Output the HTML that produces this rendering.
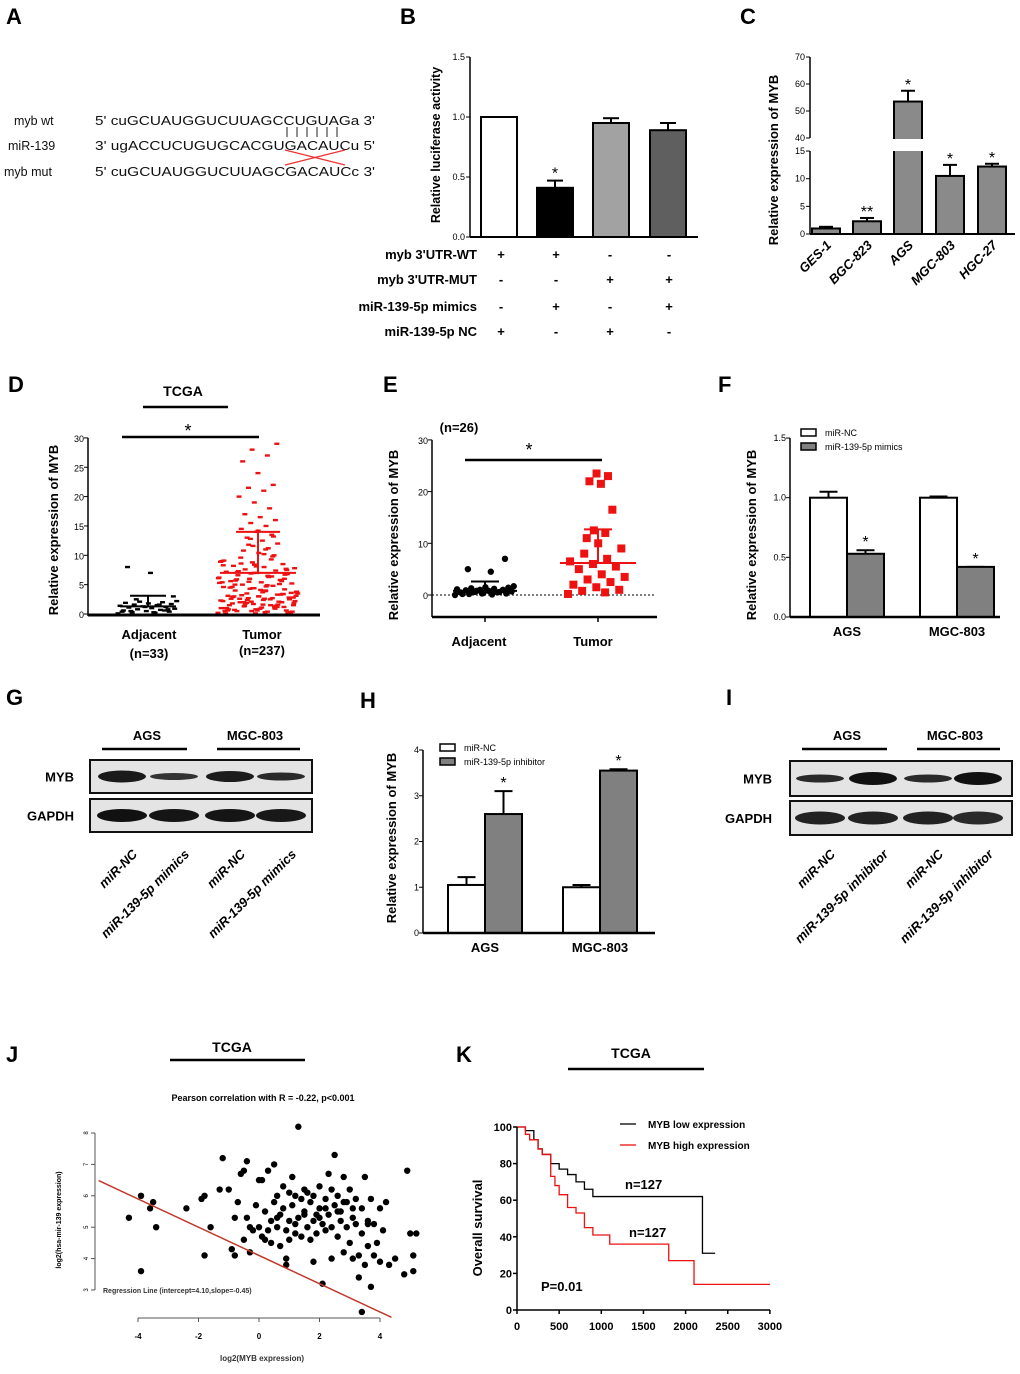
<!DOCTYPE html>
<html><head><meta charset="utf-8"><style>
html,body{margin:0;padding:0;background:#fff;}
svg{display:block;font-family:"Liberation Sans",sans-serif;}
.pl{font-size:22px;font-weight:bold;}
.t{font-size:13px;font-weight:bold;}
.s{font-size:9px;}
.sb{font-size:9px;font-weight:bold;}
</style></head><body>
<svg id="fig" width="1020" height="1374" viewBox="0 0 1020 1374">
<text class="pl" x="6" y="24">A</text>
<text class="pl" x="400" y="24">B</text>
<text class="pl" x="740" y="24">C</text>
<text class="pl" x="8" y="392">D</text>
<text class="pl" x="383" y="392">E</text>
<text class="pl" x="718" y="392">F</text>
<text class="pl" x="6" y="705">G</text>
<text class="pl" x="360" y="708">H</text>
<text class="pl" x="726" y="705">I</text>
<text class="pl" x="6" y="1062">J</text>
<text class="pl" x="456" y="1062">K</text>

<g font-size="12.5" fill="#111">
<text x="14" y="125">myb  wt</text><text x="95" y="125" textLength="280" lengthAdjust="spacingAndGlyphs">5'  cuGCUAUGGUCUUAGCCUGUAGa  3'</text>
<text x="8" y="150">miR-139</text><text x="95" y="150" textLength="280" lengthAdjust="spacingAndGlyphs">3'  ugACCUCUGUGCACGUGACAUCu  5'</text>
<text x="4" y="176">myb  mut</text><text x="95" y="176" textLength="280" lengthAdjust="spacingAndGlyphs">5'  cuGCUAUGGUCUUAGCGACAUCc  3'</text>
<g stroke="#222" stroke-width="1"><line x1="287" y1="127" x2="287" y2="137"/><line x1="297" y1="127" x2="297" y2="137"/><line x1="307" y1="127" x2="307" y2="137"/><line x1="317" y1="127" x2="317" y2="137"/><line x1="327" y1="127" x2="327" y2="137"/><line x1="337" y1="127" x2="337" y2="137"/></g>
<g stroke="#e33" stroke-width="1.2"><line x1="285" y1="150" x2="345" y2="165"/><line x1="285" y1="165" x2="345" y2="150"/></g>
</g>
<g id="pB"></g>
<g id="pC"></g>
<g id="pD"></g>
<g id="pE"></g>
<g id="pF"></g>
<g id="pG"></g>
<g id="pH"></g>
<g id="pI"></g>
<g id="pJ"></g>
<g id="pK"></g>
</svg>
<script>
const bVals = [1.0, 0.41, 0.95, 0.89];
const bErr = [0.0, 0.06, 0.04, 0.06];
const bTicks = [0, 0.5, 1.0, 1.5];
const cCats = ["GES-1","BGC-823","AGS","MGC-803","HGC-27"];
const cVals = [1.0, 2.3, 53.5, 10.5, 12.2];
const cErr = [0.3, 0.6, 4.0, 2.0, 0.5];
const dAdj = [0.1,0.2,0.3,0.4,0.5,0.6,0.7,0.8,0.9,1,1.1,1.2,1.3,1.4,1.5,1.6,1.7,1.8,1.9,2,2.1,2.2,0.3,0.5,0.8,1.2,0.4,1.6,2.5,3,7,8,0.6];
const dTum = [0.2,0.4,0.5,0.6,0.8,1,1.1,1.3,1.5,1.6,1.8,2,2.1,2.3,2.5,2.6,2.8,3,3.1,3.3,3.5,3.7,3.9,4,4.2,4.4,4.6,4.8,5,5.2,5.4,5.6,5.8,6,6.2,6.4,6.6,6.8,7,7.2,7.4,7.6,7.8,8,8.2,8.5,8.8,9,9.3,9.6,10,10.4,10.8,11.2,11.6,12,12.5,13,13.5,14,14.5,15,15.5,16,16.5,17,18,19,20,21,21.5,22,24,26,27,28,29,0.3,0.7,1.2,1.7,2.2,2.7,3.2,3.6,4.1,4.5,5.1,5.5,6.1,6.5,7.1,7.5,8.1,0.1,0.9,1.4,1.9,2.4,2.9,3.4,0.5,1,1.5,2,2.5,3,0.8,1.6,2.4,3.8,4.7,5.7,6.7,8.4,9.1,11,12.8,0.4,1.1,2.6,3.3,4.3,5.3,6.3,7.3,0.2,0.6,1.0,1.4,1.8,2.2,2.6,3.0,3.4,4.4,5.4,6.4,8.6,0.3,0.9,1.5,2.1,2.7,3.5,4.9,5.9,7.7,0.1,0.5,1.3,2.0,2.8,3.7,4.6,5.6,6.9,8.9,10.2,11.8,13.2,14.2,0.6,1.2,1.9,3.1,4.0,5.0,6.0,7.0,8.3,9.8];
const dStats = [1.3, 3.1, 7.0, 14.0];
const eAdj = [0,0.1,0.2,0.3,0.4,0.5,0.5,0.6,0.7,0.8,0.9,1,1,1.1,1.2,1.3,1.4,1.5,0.2,0.6,0.8,1.7,4.5,5,7,0.3];
const eTum = [0.2,0.5,0.8,1,1.5,2,2.5,3,3.5,4,5,5.5,6,6.5,7,8,9,10,11,12,12.5,16.5,21.5,22,23,23.5];
const eStats = [0.8, 2.6, 6.2, 12.7];
const fCats = ["AGS","MGC-803"];
const fNC = [1.0, 1.0], fNCerr = [0.05, 0.01];
const fMim = [0.53, 0.42], fMimErr = [0.03, 0.0];
const hNC = [1.05, 1.0], hNCerr = [0.17, 0.05];
const hInh = [2.6, 3.55], hInhErr = [0.5, 0.03];
const jx = [-4.3,-3.9,-3.6,-3.5,-3.4,-3.9,-2.4,-1.9,-1.8,-1.8,-1.6,-1.3,-1.2,-1.0,-0.9,-0.8,-0.8,-0.7,-0.6,-0.5,-0.5,-0.4,-0.4,-0.3,-0.2,-0.1,0,0,0.1,0.1,0.2,0.2,0.3,0.3,0.4,0.4,0.5,0.5,0.6,0.6,0.7,0.7,0.8,0.8,0.9,0.9,1.0,1.0,1.1,1.1,1.2,1.2,1.3,1.3,1.4,1.4,1.5,1.5,1.6,1.6,1.7,1.7,1.8,1.8,1.9,1.9,2.0,2.0,2.1,2.1,2.2,2.2,2.3,2.3,2.4,2.4,2.5,2.5,2.6,2.6,2.7,2.7,2.8,2.8,2.9,2.9,3.0,3.0,3.1,3.1,3.2,3.2,3.3,3.3,3.4,3.4,3.5,3.5,3.6,3.6,3.7,3.7,3.8,3.8,3.9,4.0,4.0,4.1,4.2,4.3,4.5,4.8,4.9,5.0,5.1,5.1,5.2,3.4,1.8,0.9,-0.3,2.4,1.0,1.5,2.0,2.6,3.1,0.6,1.2,2.2,2.8,3.6];
const jy = [5.3,6.0,5.6,5.8,5.0,3.6,5.6,5.9,6.0,4.1,5.0,6.2,7.2,6.2,4.3,4.1,5.3,5.8,6.7,6.8,4.6,7.1,5.3,5.0,4.9,5.7,6.5,5.0,6.5,4.7,5.5,4.6,6.8,4.9,5.2,4.5,7.0,5.8,6.0,5.0,5.4,4.4,6.3,5.6,4.9,4.0,6.1,5.2,6.6,5.7,4.8,6.0,8.2,5.3,5.9,4.7,6.2,5.5,5.0,6.1,4.6,5.8,6.0,5.2,5.4,4.8,6.3,5.6,5.1,3.2,5.9,4.9,6.7,5.4,5.0,6.2,7.3,5.7,4.7,6.0,5.5,5.2,6.6,4.2,5.8,5.0,6.2,4.5,5.3,4.0,5.9,5.1,4.1,3.4,5.6,4.8,6.6,3.8,5.2,4.4,5.9,3.1,5.1,4.1,4.5,5.6,3.9,4.9,5.8,3.8,4.0,3.5,6.8,4.8,3.6,4.1,4.8,2.3,3.9,3.8,4.2,4.0,4.6,5.4,5.3,5.5,5.6,5.3,5.1,5.6,5.8,5.1];
const jInt = 4.10, jSlope = -0.45;
const kLowT = [0,100,200,250,300,400,500,600,700,800,900,2200,2200,2350];
const kLowS = [100,98,93,88,85,80,77,74,70,66,62,62,31,31];
const kHighT = [0,100,150,250,300,400,450,500,600,700,800,900,1100,1100,1800,1800,2100,2100,3000];
const kHighS = [100,96,93,88,85,73,68,63,56,53,45,41,40,36,36,27,27,14,14];
const kTicksX = [0,500,1000,1500,2000,2500,3000];
const kTicksY = [0,20,40,60,80,100];

const NS = "http://www.w3.org/2000/svg";
function mk(tag, parent, a) {
  const el = document.createElementNS(NS, tag);
  for (const k in a) el.setAttribute(k, a[k]);
  parent.appendChild(el);
  return el;
}
function txt(parent, x, y, s, a) {
  const el = mk("text", parent, Object.assign({x: x, y: y}, a || {}));
  el.textContent = s;
  return el;
}
function yTitle(parent, x, y, s, size) {
  const el = txt(parent, 0, 0, s, {transform: "translate(" + x + "," + y + ") rotate(-90)", "text-anchor": "middle", "font-size": size || 13, "font-weight": "bold"});
  
  
}
function line(p, x1, y1, x2, y2, w, c) { return mk("line", p, {x1: x1, y1: y1, x2: x2, y2: y2, stroke: c || "#000", "stroke-width": w || 1.5}); }
function errBar(p, x, y1, y2, hw) { line(p, x, y1, x, y2, 2); line(p, x - hw, y2, x + hw, y2, 2); }

// Panel B
(function () {
  const g = document.getElementById("pB");
  const x0 = 470, y0 = 237, sc = 120;
  const y = v => y0 - v * sc;
  const cx = [499, 555, 611, 668];
  const fills = ["#fff", "#000", "#a2a2a2", "#5f5f5f"];
  bVals.forEach((v, i) => {
    if (bErr[i] > 0) errBar(g, cx[i], y(v), y(v + bErr[i]), 8);
    const r = mk("rect", g, {x: cx[i] - 18, y: y(v), width: 36, height: y0 - y(v), fill: fills[i], stroke: "#000", "stroke-width": 2});
    
    
  });
  txt(g, 555, y(bVals[1] + bErr[1]) - 2, "*", {"text-anchor": "middle", "font-size": 16});
  line(g, x0, y0, x0, y(1.5), 1.5);
  line(g, x0, y0, 698, y0, 2);
  bTicks.forEach(t => { line(g, x0 - 4, y(t), x0, y(t), 1); txt(g, x0 - 5, y(t) + 3, t.toFixed(1), {"text-anchor": "end", "class": "s"}); });
  yTitle(g, 440, 145, "Relative luciferase activity", 12.5);
  const rows = ["myb  3'UTR-WT", "myb 3'UTR-MUT", "miR-139-5p mimics", "miR-139-5p NC"];
  const sym = [["+","+","-","-"],["-","-","+","+"],["-","+","-","+"],["+","-","+","-"]];
  const ry = [259, 284, 311, 336];
  const sx = [501, 556, 610, 669];
  rows.forEach((r, i) => {
    txt(g, 477, ry[i], r, {"text-anchor": "end", "class": "t"});
    sym[i].forEach((s, j) => txt(g, sx[j], ry[i], s, {"text-anchor": "middle", "class": "t"}));
  });
})();

// Panel C
(function () {
  const g = document.getElementById("pC");
  const x0 = 810, y0 = 234;
  const yl = v => y0 - v * 5.53;
  const yu = v => 138 - (v - 40) * 2.7;
  const y = v => v <= 15 ? yl(v) : yu(v);
  const cx = [826, 867, 908, 950, 992];
  cVals.forEach((v, i) => {
    errBar(g, cx[i], y(v), y(v + cErr[i]), 7);
    const r = mk("rect", g, {x: cx[i] - 14, y: y(v), width: 28, height: y0 - y(v), fill: "#8a8a8a", stroke: "#000", "stroke-width": 2});
    
    
    if (v > 15) mk("rect", g, {x: cx[i] - 16, y: 139, width: 32, height: 12, fill: "#fff"});
    const lab = txt(g, 0, 0, cCats[i], {transform: "translate(" + (cx[i] + 6) + ",246) rotate(-45)", "text-anchor": "end", "font-size": 13, "font-weight": "bold", "font-style": "italic"});
    
    
  });
  txt(g, 867, y(cVals[1] + cErr[1]) - 1, "**", {"text-anchor": "middle", "font-size": 16});
  [2, 3, 4].forEach(i => txt(g, cx[i], y(cVals[i] + cErr[i]) - 1, "*", {"text-anchor": "middle", "font-size": 16}));
  line(g, x0, y0, x0, 151, 1.5); line(g, x0, 138, x0, 57, 1.5);
  line(g, x0, y0, 1015, y0, 2);
  [0, 5, 10, 15].forEach(t => { line(g, x0 - 4, yl(t), x0, yl(t), 1); txt(g, x0 - 5, yl(t) + 3, t, {"text-anchor": "end", "class": "s"}); });
  [40, 50, 60, 70].forEach(t => { line(g, x0 - 4, yu(t), x0, yu(t), 1); txt(g, x0 - 5, yu(t) + 3, t, {"text-anchor": "end", "class": "s"}); });
  yTitle(g, 778, 160, "Relative expression of  MYB", 13);
})();

function dotCol(g, vals, cx, yf, hw, shape, col) {
  vals.forEach((v, i) => {
    const frac = ((i * 0.6180339) % 1) - 0.5;
    const spread = v < 10 ? 1 : 0.5;
    const off = frac * 2 * hw * spread;
    let el;
    if (shape === "circle") el = mk("circle", g, {cx: cx + off, cy: yf(v), r: 3.2, fill: col});
    else if (shape === "big") el = mk("rect", g, {x: cx + off - 4, y: yf(v) - 4, width: 8, height: 8, fill: col});
    else el = mk("rect", g, {x: cx + off - 2.5, y: yf(v) - 1.2, width: 5, height: 2.4, fill: col});
    
    
  });
}
function meanSD(g, cx, yf, m, sdTop, wM, wS, col) {
  line(g, cx - wM, yf(m), cx + wM, yf(m), 2, col);
  line(g, cx, yf(m), cx, yf(sdTop), 2, col);
  line(g, cx - wS, yf(sdTop), cx + wS, yf(sdTop), 2, col);
}

// Panel D
(function () {
  const g = document.getElementById("pD");
  const x0 = 88, y0 = 614;
  const y = v => y0 - v * 5.87;
  txt(g, 183, 396, "TCGA", {"text-anchor": "middle", "font-size": 14, "font-weight": "bold"});
  line(g, 143, 407, 228, 407, 2.5);
  txt(g, 188, 437, "*", {"text-anchor": "middle", "font-size": 18});
  line(g, 122, 437, 259, 437, 2.5);
  dotCol(g, dAdj, 148, y, 30, "dash", "#000");
  dotCol(g, dTum, 258, y, 40, "dash", "#ee1111");
  meanSD(g, 148, y, dStats[0], dStats[1], 28, 18, "#000");
  meanSD(g, 258, y, dStats[2], dStats[3], 38, 22, "#ee1111");
  line(g, x0, y0 + 2, x0, y(30), 1.5);
  line(g, x0, y0 + 1, 320, y0 + 1, 3);
  [0, 5, 10, 15, 20, 25, 30].forEach(t => { line(g, x0 - 4, y(t), x0, y(t), 1); txt(g, x0 - 4, y(t) + 4, t, {"text-anchor": "end", "class": "s"}); });
  yTitle(g, 58, 530, "Relative expression of  MYB", 13);
  txt(g, 149, 639, "Adjacent", {"text-anchor": "middle", "class": "t"});
  txt(g, 149, 658, "(n=33)", {"text-anchor": "middle", "class": "t"});
  txt(g, 262, 639, "Tumor", {"text-anchor": "middle", "class": "t"});
  txt(g, 262, 655, "(n=237)", {"text-anchor": "middle", "class": "t"});
})();

// Panel E
(function () {
  const g = document.getElementById("pE");
  const x0 = 432, y0 = 595;
  const y = v => y0 - v * 5.17;
  txt(g, 459, 432, "(n=26)", {"text-anchor": "middle", "class": "t"});
  txt(g, 529, 456, "*", {"text-anchor": "middle", "font-size": 18});
  line(g, 465, 460, 602, 460, 2.5);
  mk("line", g, {x1: x0, y1: y0, x2: 655, y2: y0, stroke: "#000", "stroke-width": 1, "stroke-dasharray": "2,2"});
  dotCol(g, eAdj, 485, y, 30, "circle", "#000");
  dotCol(g, eTum, 598, y, 30, "big", "#ee1111");
  meanSD(g, 485, y, eStats[0], eStats[1], 32, 14, "#000");
  meanSD(g, 598, y, eStats[2], eStats[3], 38, 14, "#ee1111");
  line(g, x0, 617, x0, y(30), 1.5);
  line(g, x0, 617, 657, 617, 2.5);
  line(g, 485, 617, 485, 622, 1.5); line(g, 598, 617, 598, 622, 1.5);
  [0, 10, 20, 30].forEach(t => { line(g, x0 - 4, y(t), x0, y(t), 1); txt(g, x0 - 4, y(t) + 4, t, {"text-anchor": "end", "class": "s"}); });
  yTitle(g, 398, 535, "Relative expression of  MYB", 13);
  txt(g, 479, 646, "Adjacent", {"text-anchor": "middle", "class": "t"});
  txt(g, 593, 646, "Tumor", {"text-anchor": "middle", "class": "t"});
})();

function grouped(g, x0, y0, sc, maxV, ticks, xEnd, centers, a, aErr, b, bErr, legend, ytx, yty, lx, ly, bw, dec) {
  const y = v => y0 - v * sc;
  centers.forEach((c, i) => {
    errBar(g, c - bw / 2, y(a[i]), y(a[i] + aErr[i]), 9);
    errBar(g, c + bw / 2, y(b[i]), y(b[i] + bErr[i]), 9);
    const r1 = mk("rect", g, {x: c - bw, y: y(a[i]), width: bw, height: y0 - y(a[i]), fill: "#fff", stroke: "#000", "stroke-width": 2});
    
    
    const r2 = mk("rect", g, {x: c, y: y(b[i]), width: bw, height: y0 - y(b[i]), fill: "#808080", stroke: "#000", "stroke-width": 2});
    
    
    txt(g, c + bw / 2, y(b[i] + bErr[i]) - 3, "*", {"text-anchor": "middle", "font-size": 16});
    txt(g, c, y0 + 19, fCats[i], {"text-anchor": "middle", "class": "t"});
  });
  line(g, x0, y0, x0, y(maxV), 1.5);
  line(g, x0, y0, xEnd, y0, 2.5);
  ticks.forEach(t => { line(g, x0 - 4, y(t), x0, y(t), 1); txt(g, x0 - 4, y(t) + 3, dec ? t.toFixed(1) : t, {"text-anchor": "end", "class": "s"}); });
  yTitle(g, ytx, yty, "Relative expression of  MYB", 13);
  const l1 = mk("rect", g, {x: lx, y: ly - 4, width: 15, height: 7, fill: "#fff", stroke: "#000", "stroke-width": 1.5});
  
  
  const l2 = mk("rect", g, {x: lx, y: ly + 10, width: 15, height: 7, fill: "#808080", stroke: "#000", "stroke-width": 1.5});
  
  
  txt(g, lx + 24, ly + 3, legend[0], {"class": "s", "font-size": 8.5});
  txt(g, lx + 24, ly + 17, legend[1], {"class": "s", "font-size": 8.5});
}
grouped(document.getElementById("pF"), 790, 617, 119.3, 1.5, [0, 0.5, 1.0, 1.5], 1000, [847, 957], fNC, fNCerr, fMim, fMimErr, ["miR-NC", "miR-139-5p mimics"], 756, 535, 801, 433, 37, true);
grouped(document.getElementById("pH"), 423, 933, 45.75, 4, [0, 1, 2, 3, 4], 655, [485, 600], hNC, hNCerr, hInh, hInhErr, ["miR-NC", "miR-139-5p inhibitor"], 396, 838, 440, 748, 37, false);

function blot(g, bx0, bx1, labX, mybY, mybH, gapY, gapH, mybRy, lanes, mybCols, gapCols, labY, inhib) {
  txt(g, bx0 + 57, 740, "AGS", {"text-anchor": "middle", "class": "t"});
  txt(g, bx0 + 165, 740, "MGC-803", {"text-anchor": "middle", "class": "t"});
  line(g, bx0 + 12, 749, bx0 + 97, 749, 2.5);
  line(g, bx0 + 127, 749, bx0 + 210, 749, 2.5);
  const b1 = mk("rect", g, {x: bx0, y: mybY, width: bx1 - bx0, height: mybH, fill: "#e4e4e4", stroke: "#111", "stroke-width": 2});
  
  
  const b2 = mk("rect", g, {x: bx0, y: gapY, width: bx1 - bx0, height: gapH, fill: "#e4e4e4", stroke: "#111", "stroke-width": 2});
  
  
  txt(g, labX, mybY + mybH / 2 + 5, "MYB", {"text-anchor": "end", "class": "t"});
  txt(g, labX, gapY + gapH / 2 + 5, "GAPDH", {"text-anchor": "end", "class": "t"});
  const lab = inhib ? ["miR-NC", "miR-139-5p inhibitor"] : ["miR-NC", "miR-139-5p mimics"];
  lanes.forEach((lx, i) => {
    mk("ellipse", g, {cx: lx, cy: mybY + mybH / 2, rx: 24, ry: mybRy[i], fill: mybCols[i]});
    mk("ellipse", g, {cx: lx, cy: gapY + gapH / 2, rx: 25, ry: 6.5, fill: gapCols[i]});
    const t = txt(g, 0, 0, lab[i % 2], {transform: "translate(" + (lx + 16) + "," + labY + ") rotate(-45)", "text-anchor": "end", "font-size": 13, "font-weight": "bold", "font-style": "italic"});
    
    
  });
}
blot(document.getElementById("pG"), 90, 312, 74, 760, 33, 799, 33, [6, 3.5, 5.5, 4], [122, 174, 230, 281], ["#1a1a1a", "#333", "#1c1c1c", "#2a2a2a"], ["#111", "#151515", "#151515", "#181818"], 855, false);
blot(document.getElementById("pI"), 790, 1012, 772, 761, 35, 801, 34, [4, 6.5, 4, 6.5], [820, 873, 928, 978], ["#2a2a2a", "#111", "#2a2a2a", "#111"], ["#222", "#222", "#222", "#2a2a2a"], 855, true);

// Panel J
(function () {
  const g = document.getElementById("pJ");
  const X = v => 259 + v * 30.25;
  const Y = v => 1133 + (8 - v) * 31.4;
  txt(g, 232, 1052, "TCGA", {"text-anchor": "middle", "font-size": 14, "font-weight": "bold"});
  line(g, 170, 1060, 305, 1060, 2.5);
  txt(g, 263, 1101, "Pearson correlation with R = -0.22, p<0.001", {"text-anchor": "middle", "class": "sb", "font-size": 10});
  jx.forEach((v, i) => {
    const c = mk("circle", g, {cx: X(v), cy: Y(jy[i]), r: 3.2, fill: "#000"});
    
    
  });
  const rl = mk("line", g, {x1: X(-5.3), y1: Y(jInt + jSlope * -5.3), x2: X(4.38), y2: Y(jInt + jSlope * 4.38), stroke: "#c0392b", "stroke-width": 1.5});
  
  
  line(g, 95, Y(8), 95, Y(3), 1, "#555");
  [3, 4, 5, 6, 7, 8].forEach(t => { line(g, 91, Y(t), 95, Y(t), 1, "#555"); txt(g, 0, 0, t, {transform: "translate(88," + Y(t) + ") rotate(-90)", "text-anchor": "middle", "font-size": 6}); });
  line(g, X(-4), 1318, X(4), 1318, 1, "#555");
  [-4, -2, 0, 2, 4].forEach(t => { line(g, X(t), 1318, X(t), 1322, 1, "#555"); txt(g, X(t), 1339, t, {"text-anchor": "middle", "font-size": 8, "font-weight": "bold"}); });
  txt(g, 103, 1293, "Regression Line (intercept=4.10,slope=-0.45)", {"font-size": 7, "font-weight": "bold", "fill": "#333"});
  txt(g, 262, 1361, "log2(MYB expression)", {"text-anchor": "middle", "font-size": 8, "font-weight": "bold", "fill": "#333"});
  yTitle(g, 61, 1220, "log2(hsa-mir-139 expression)", 7);
})();

// Panel K
(function () {
  const g = document.getElementById("pK");
  const X = t => 517 + t * 0.0843;
  const Y = s => 1310 - s * 1.83;
  txt(g, 631, 1058, "TCGA", {"text-anchor": "middle", "font-size": 14, "font-weight": "bold"});
  line(g, 568, 1069, 704, 1069, 2.5);
  function steps(T, S, col, name) {
    let d = "M" + X(T[0]) + "," + Y(S[0]);
    for (let i = 1; i < T.length; i++) d += "H" + X(T[i]) + "V" + Y(S[i]);
    const p = mk("path", g, {d: d, fill: "none", stroke: col, "stroke-width": 1.3});
    
    
  }
  steps(kLowT, kLowS, "#000", "low-expression-curve");
  steps(kHighT, kHighS, "#ee1111", "high-expression-curve");
  line(g, 517, 1310, 517, Y(100), 1.5);
  line(g, 517, 1310, 770, 1310, 1.5);
  kTicksY.forEach(t => { line(g, 513, Y(t), 517, Y(t), 1.5); txt(g, 512, Y(t) + 4, t, {"text-anchor": "end", "font-size": 11, "font-weight": "bold"}); });
  kTicksX.forEach(t => { line(g, X(t), 1310, X(t), 1314, 1.5); txt(g, X(t), 1330, t, {"text-anchor": "middle", "font-size": 11, "font-weight": "bold"}); });
  yTitle(g, 482, 1228, "Overall survival", 13);
  line(g, 620, 1124, 636, 1124, 1.3, "#000");
  line(g, 620, 1145, 636, 1145, 1.3, "#ee1111");
  txt(g, 648, 1128, "MYB low expression", {"font-size": 10, "font-weight": "bold"});
  txt(g, 648, 1149, "MYB high expression", {"font-size": 10, "font-weight": "bold"});
  txt(g, 625, 1189, "n=127", {"font-size": 13, "font-weight": "bold"});
  txt(g, 629, 1237, "n=127", {"font-size": 13, "font-weight": "bold"});
  txt(g, 541, 1291, "P=0.01", {"font-size": 13, "font-weight": "bold"});
})();
</script>
</body></html>
